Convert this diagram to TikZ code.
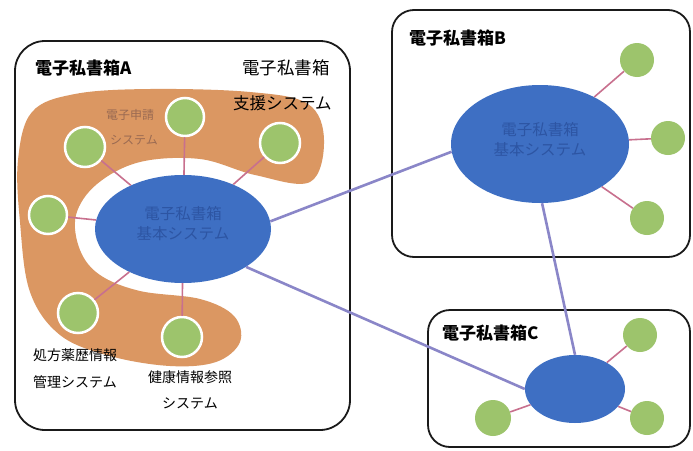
\documentclass[tikz,border=0pt]{standalone}
\usepackage{fontspec}
\newfontfamily\cjk{Noto Sans CJK JP}
\usetikzlibrary{shapes.geometric}
\definecolor{boxline}{HTML}{1A1A1A}
\definecolor{blobc}{HTML}{DB9762}
\definecolor{ellc}{HTML}{3E6FC3}
\definecolor{elltext}{HTML}{2D55A3}
\definecolor{greenc}{HTML}{9DC46C}
\definecolor{pinkc}{HTML}{C8708E}
\definecolor{linkc}{HTML}{8A86C8}
\definecolor{browntext}{HTML}{9A6A52}
\tikzset{
  outerbox/.style={draw=boxline, line width=1.8pt, rounded corners=22pt},
  bigell/.style={ellipse, fill=ellc, draw=none, inner sep=0pt},
  gcirc/.style={circle, fill=greenc, draw=white, line width=2.5pt, inner sep=0pt},
  gcircb/.style={circle, fill=greenc, draw=none, inner sep=0pt},
  spoke/.style={draw=pinkc, line width=1.6pt},
  link/.style={draw=linkc, line width=2.6pt},
  boxlabel/.style={font=\cjk\bfseries\fontsize{17}{19}\selectfont, anchor=west, inner sep=0pt},
  plaintxt/.style={font=\cjk\fontsize{16.5}{19}\selectfont, anchor=west, inner sep=0pt},
  smalltxt/.style={font=\cjk\fontsize{14}{16}\selectfont, inner sep=0pt},
  elltxt/.style={font=\cjk\fontsize{15.5}{20}\selectfont, text=elltext, align=center},
}
\begin{document}
\begin{tikzpicture}[x=1pt,y=-1pt]
\useasboundingbox[fill=white] (0,0) rectangle (693,450);
% boxes
\draw[outerbox, rounded corners=30pt] (15,41) rectangle (350,430);
\draw[outerbox] (392,10) rectangle (690,257);
\draw[outerbox] (428,310) rectangle (690,447);
% orange blob
\fill[blobc] plot[smooth cycle, tension=0.6] coordinates {
 (32,112) (75,94) (150,89) (250,92) (308,104) (324,140) (310,182)
 (255,175) (200,159) (140,162) (97,184) (76,215) (80,250) (100,275)
 (140,291) (200,299) (234,316) (240,342) (216,362) (170,366)
 (110,356) (60,335) (30,292) (20,222) (18,160)};
% box labels
\node[boxlabel] (la) at (35,68) {電子私書箱A};
\node[boxlabel] (lb) at (409,38) {電子私書箱B};
\node[boxlabel] (lc) at (442,333) {電子私書箱C};
% texts in A
\node[plaintxt, font=\cjk\fontsize{17.5}{19}\selectfont] (ra1) at (242,68) {電子私書箱};
\node[plaintxt] (ra2) at (233,103) {支援システム};
\node[smalltxt, text=browntext, font=\cjk\fontsize{12}{13}\selectfont] (ea1) at (130,115) {電子申請};
\node[smalltxt, text=browntext, font=\cjk\fontsize{12}{13}\selectfont] (ea2) at (134,140) {システム};
\node[smalltxt, anchor=west] (pa1) at (33,355) {処方薬歴情報};
\node[smalltxt, anchor=west] (pa2) at (33,382) {管理システム};
\node[smalltxt] (ka1) at (190,377) {健康情報参照};
\node[smalltxt] (ka2) at (190,403) {システム};
% ellipses
\node[bigell, minimum width=176pt, minimum height=108pt] (eA) at (183,229) {};
\node[bigell, minimum width=178pt, minimum height=118pt] (eB) at (540,144) {};
\node[bigell, minimum width=100pt, minimum height=68pt] (eC) at (575,389) {};
\node[elltxt] (tA) at (183,224) {電子私書箱\\基本システム};
\node[elltxt] (tB) at (540,140) {電子私書箱\\基本システム};
% green circles A
\node[gcirc, minimum size=38pt] (a1) at (185,117) {};
\node[gcirc, minimum size=40pt] (a2) at (85,147) {};
\node[gcirc, minimum size=40pt] (a3) at (280,143) {};
\node[gcirc, minimum size=38pt] (a4) at (48,215) {};
\node[gcirc, minimum size=40pt] (a5) at (78,313) {};
\node[gcirc, minimum size=40pt] (a6) at (182,337) {};
% green circles B
\node[gcircb, minimum size=34pt] (b1) at (637,60) {};
\node[gcircb, minimum size=34pt] (b2) at (668,138) {};
\node[gcircb, minimum size=34pt] (b3) at (647,218) {};
% green circles C
\node[gcircb, minimum size=34pt] (c1) at (640,335) {};
\node[gcircb, minimum size=36pt] (c2) at (493,418) {};
\node[gcircb, minimum size=34pt] (c3) at (647,418) {};
% spokes
\foreach \g in {a1,a2,a3,a4,a5,a6} \draw[spoke] (eA) -- (\g);
\foreach \g in {b1,b2,b3} \draw[spoke] (eB) -- (\g);
\foreach \g in {c1,c2,c3} \draw[spoke] (eC) -- (\g);
% links
\draw[link] (eA.5) -- (eB.185);
\draw[link] (eA.-31) -- (eC.180);
\draw[link] (eB.-88) -- (eC.90);
\end{tikzpicture}
\end{document}
